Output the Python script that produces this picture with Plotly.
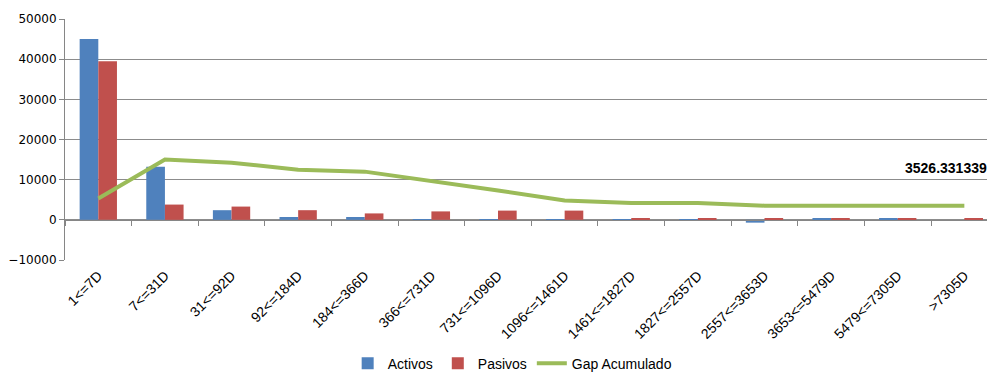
import plotly.graph_objects as go

categories = ["1<=7D", "7<=31D", "31<=92D", "92<=184D", "184<=366D", "366<=731D",
              "731<=1096D", "1096<=1461D", "1461<=1827D", "1827<=2557D", "2557<=3653D",
              "3653<=5479D", "5479<=7305D", ">7305D"]
activos = [45000, 13200, 2400, 700, 700, 100, 100, 50, 100, 100, -700, 300, 300, 0]
pasivos = [39500, 3800, 3300, 2400, 1600, 2100, 2300, 2300, 300, 300, 300, 300, 300, 300]
gap_acumulado = [5300, 15000, 14200, 12500, 12000, 9700, 7300, 4800, 4200, 4200,
                 3526.331339, 3526.331339, 3526.331339, 3526.331339]
last_label = "3526.331339"
y_ticks = [-10000, 0, 10000, 20000, 30000, 40000, 50000]

fig = go.Figure()
fig.add_trace(go.Bar(x=categories, y=activos, name="Activos",
                     marker=dict(color="#4F81BD", line=dict(width=0))))
fig.add_trace(go.Bar(x=categories, y=pasivos, name="Pasivos",
                     marker=dict(color="#C0504D", line=dict(width=0))))
fig.add_trace(go.Scatter(x=categories, y=gap_acumulado, name="Gap Acumulado",
                         mode="lines", line=dict(color="#9BBB59", width=4)))
# invisible helper trace so the zero-level category axis (with boundary ticks) is drawn
fig.add_trace(go.Scatter(x=categories, y=[None] * len(categories), xaxis="x2",
                         showlegend=False, hoverinfo="skip", mode="lines"))

fig.add_annotation(x=categories[-1], y=gap_acumulado[-1], text="<b>" + last_label + "</b>",
                   showarrow=False, xanchor="center", yanchor="middle",
                   xshift=-18, yshift=38,
                   font=dict(family="Liberation Sans", size=14, color="#000000"))

ymin, ymax = y_ticks[0], y_ticks[-1]
zero_pos = (0 - ymin) / (ymax - ymin)
xrange = [-0.5, 13.34]

fig.update_layout(
    template="none",
    width=987, height=375,
    margin=dict(l=65, r=0, t=19, b=115, autoexpand=False),
    paper_bgcolor="white", plot_bgcolor="white",
    barmode="group", bargap=0.44, bargroupgap=0,
    showlegend=True,
    legend=dict(orientation="h", x=0.485, xanchor="center", y=-0.43, yanchor="middle",
                font=dict(family="Liberation Sans", size=14, color="#000000"),
                itemwidth=30, tracegroupgap=0, bgcolor="rgba(0,0,0,0)"),
    font=dict(family="Liberation Sans", size=12, color="#000000"),
    xaxis=dict(range=xrange, showline=False, ticks="", tickangle=-45,
               automargin=False, ticklabelstandoff=4,
               tickfont=dict(family="Liberation Sans", size=14, color="#000000"),
               showgrid=False, zeroline=False),
    xaxis2=dict(range=xrange, overlaying="x", anchor="free", position=zero_pos,
                showline=True, linecolor="#868686", linewidth=1,
                ticks="outside", tickson="boundaries", ticklen=5, tickcolor="#868686",
                showticklabels=False, showgrid=False, zeroline=False, automargin=False),
    yaxis=dict(range=[ymin, ymax], tick0=0, dtick=10000, tickformat="d",
               showgrid=True, gridcolor="#8C8C8C", gridwidth=1,
               zeroline=False, showline=True, linecolor="#868686", linewidth=1,
               ticks="outside", ticklen=5, tickcolor="#868686", automargin=False,
               tickfont=dict(family="DejaVu Sans", size=12, color="#000000")),
)

fig.write_html("out.html")
